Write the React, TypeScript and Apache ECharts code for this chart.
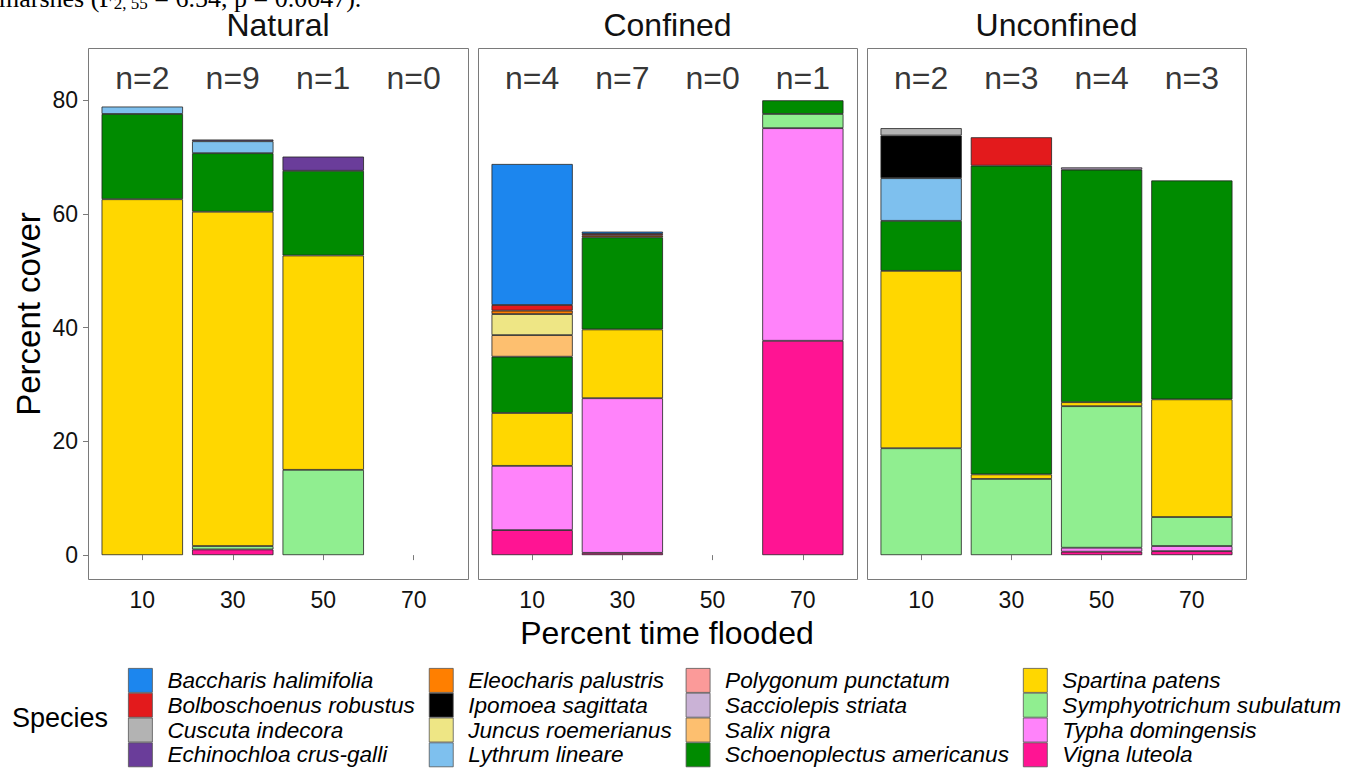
import React, { useEffect, useRef } from 'react';
import * as echarts from 'echarts';

// ---------- data ----------
const species = [
  'Baccharis halimifolia',
  'Bolboschoenus robustus',
  'Cuscuta indecora',
  'Echinochloa crus-galli',
  'Eleocharis palustris',
  'Ipomoea sagittata',
  'Juncus roemerianus',
  'Lythrum lineare',
  'Polygonum punctatum',
  'Sacciolepis striata',
  'Salix nigra',
  'Schoenoplectus americanus',
  'Spartina patens',
  'Symphyotrichum subulatum',
  'Typha domingensis',
  'Vigna luteola',
];

const speciesColors = [
  '#1C86EE', '#E31A1C', '#B3B3B3', '#6A3D9A',
  '#FF7F00', '#000000', '#EEE685', '#7EC0EE',
  '#FB9A99', '#CAB2D6', '#FDBF6F', '#008B00',
  '#FFD700', '#90EE90', '#FF83FA', '#FF1493',
];

const sites = ['Natural', 'Confined', 'Unconfined'];
const floodCategories = ['10', '30', '50', '70'];

const nNatural = [2, 9, 1, 0];
const nConfined = [4, 7, 0, 1];
const nUnconfined = [2, 3, 4, 3];

// percent cover per species at 10 / 30 / 50 / 70 % time flooded
const naturalCover: Record<string, number[]> = {
  'Echinochloa crus-galli': [0, 0.3, 2.5, 0],
  'Lythrum lineare': [1.3, 2.1, 0, 0],
  'Schoenoplectus americanus': [15.0, 10.3, 14.9, 0],
  'Spartina patens': [62.6, 58.8, 37.7, 0],
  'Symphyotrichum subulatum': [0, 0.6, 15.0, 0],
  'Vigna luteola': [0, 1.0, 0, 0],
};

const confinedCover: Record<string, number[]> = {
  'Baccharis halimifolia': [24.8, 0.4, 0, 0],
  'Bolboschoenus robustus': [1.0, 0.3, 0, 0],
  'Eleocharis palustris': [0.6, 0.3, 0, 0],
  'Juncus roemerianus': [3.7, 0, 0, 0],
  'Salix nigra': [3.8, 0, 0, 0],
  'Schoenoplectus americanus': [9.9, 16.2, 0, 2.4],
  'Spartina patens': [9.3, 12.1, 0, 0],
  'Symphyotrichum subulatum': [0, 0, 0, 2.5],
  'Typha domingensis': [11.3, 27.2, 0, 37.4],
  'Vigna luteola': [4.4, 0.4, 0, 37.7],
};

const unconfinedCover: Record<string, number[]> = {
  'Bolboschoenus robustus': [0, 5.0, 0, 0],
  'Cuscuta indecora': [1.3, 0, 0, 0],
  'Ipomoea sagittata': [7.5, 0, 0, 0],
  'Lythrum lineare': [7.5, 0, 0, 0],
  'Sacciolepis striata': [0, 0, 0.4, 0],
  'Schoenoplectus americanus': [8.8, 54.3, 40.9, 38.5],
  'Spartina patens': [31.2, 0.8, 0.7, 20.7],
  'Symphyotrichum subulatum': [18.8, 13.4, 24.9, 5.1],
  'Typha domingensis': [0, 0, 0.7, 0.9],
  'Vigna luteola': [0, 0, 0.6, 0.7],
};

const yTicks = [0, 20, 40, 60, 80];

// ---------- layout / style ----------
const FONT = '"Liberation Sans", Arial, Helvetica, sans-serif';
const SERIF = '"Liberation Serif", "Times New Roman", serif';
const panels = [
  { left: 88, width: 380 },
  { left: 478, width: 379 },
  { left: 867, width: 379 },
];
const PANEL_TOP = 48;
const PANEL_HEIGHT = 531;
const Y_MIN = -4.2;
const Y_MAX = 89.2;
const N_LABEL_Y = 84;
const BORDER = '#7a7a7a';

export default function App() {
  const ref = useRef<HTMLDivElement>(null);

  useEffect(() => {
    if (!ref.current) return;
    const chart = echarts.init(ref.current, undefined, { renderer: 'svg' });

    const covers = [naturalCover, confinedCover, unconfinedCover];
    const ns = [nNatural, nConfined, nUnconfined];

    // ggplot-like discrete expansion: 0.6 band on each side of first/last category
    const inner = panels.map((p) => {
      const band = p.width / 4.2;
      return { left: p.left + 0.1 * band, width: 4 * band, offset: 0.1 * band };
    });

    const grid = inner.map((g) => ({
      left: g.left,
      top: PANEL_TOP,
      width: g.width,
      height: PANEL_HEIGHT,
      containLabel: false,
    }));

    const xAxis = panels.map((_, p) => ({
      type: 'category',
      gridIndex: p,
      data: floodCategories,
      boundaryGap: true,
      splitLine: { show: false },
      axisLine: { show: false },
      axisTick: { show: true, alignWithLabel: true, length: 5, lineStyle: { color: BORDER, width: 1 } },
      axisLabel: {
        show: true,
        margin: 9,
        fontSize: 23,
        color: '#111',
        fontFamily: FONT,
      },
    }));

    const yAxis = panels.map((_, p) => ({
      type: 'value',
      gridIndex: p,
      min: Y_MIN,
      max: Y_MAX,
      offset: inner[p].offset,
      splitLine: { show: false },
      axisLine: { show: false },
      axisTick: { show: p === 0, length: 5, customValues: yTicks, lineStyle: { color: BORDER, width: 1 } },
      axisLabel: {
        show: p === 0,
        customValues: yTicks,
        margin: 10,
        fontSize: 23,
        color: '#111',
        fontFamily: FONT,
      },
    }));

    const series: any[] = [];
    covers.forEach((cov, p) => {
      [...species].reverse().forEach((sp) => {
        const vals = cov[sp] || [0, 0, 0, 0];
        series.push({
          type: 'bar',
          name: sp,
          xAxisIndex: p,
          yAxisIndex: p,
          stack: 'site' + p,
          barWidth: '90%',
          silent: true,
          itemStyle: {
            color: speciesColors[species.indexOf(sp)],
            borderColor: '#222',
            borderWidth: 0.8,
          },
          data: vals.map((v) => (v > 0 ? v : '-')),
        });
      });
      series.push({
        type: 'scatter',
        xAxisIndex: p,
        yAxisIndex: p,
        symbolSize: 0,
        silent: true,
        data: ns[p].map(() => N_LABEL_Y),
        label: {
          show: true,
          position: 'inside',
          formatter: (prm: any) => 'n=' + ns[p][prm.dataIndex],
          fontSize: 32,
          color: '#000',
          fontFamily: FONT,
        },
      });
    });

    const titleCenters = panels.map((p) => p.left + p.width / 2);

    const graphic: any[] = [
      ...panels.map((p) => ({
        type: 'rect',
        shape: { x: p.left + 0.5, y: PANEL_TOP + 0.5, width: p.width, height: PANEL_HEIGHT },
        style: { fill: 'none', stroke: BORDER, lineWidth: 1 },
        silent: true,
        z: 0,
      })),
      ...sites.map((s, i) => ({
        type: 'text',
        x: titleCenters[i],
        y: 25,
        style: { text: s, fontSize: 32, fontFamily: FONT, fill: '#111', align: 'center', verticalAlign: 'middle' },
      })),
      {
        type: 'text',
        x: 667,
        y: 633,
        style: { text: 'Percent time flooded', fontSize: 32, fontFamily: FONT, fill: '#000', align: 'center', verticalAlign: 'middle' },
      },
      {
        type: 'text',
        x: 28,
        y: 314,
        rotation: Math.PI / 2,
        style: { text: 'Percent cover', fontSize: 33, fontFamily: FONT, fill: '#000', align: 'center', verticalAlign: 'middle' },
      },
      {
        type: 'text',
        x: 12,
        y: 718,
        style: { text: 'Species', fontSize: 27, fontFamily: FONT, fill: '#000', align: 'left', verticalAlign: 'middle' },
      },
      {
        type: 'text',
        x: -1,
        y: -2,
        style: {
          text: '{a|marshes (F}{b|2, 55}{a| = 6.54, p = 0.0047).}',
          verticalAlign: 'middle',
          align: 'left',
          rich: {
            a: { fontSize: 26, fontFamily: SERIF, fill: '#000', color: '#000' },
            b: { fontSize: 17, fontFamily: SERIF, fill: '#000', color: '#000', padding: [10, 0, 0, 0] },
          },
        },
      },
    ];

    chart.setOption({
      animation: false,
      backgroundColor: '#ffffff',
      grid,
      xAxis,
      yAxis,
      series,
      legend: {
        data: species,
        orient: 'vertical',
        left: 128,
        top: 668,
        height: 110,
        padding: 0,
        itemWidth: 24,
        itemHeight: 24,
        itemGap: 0,
        icon: 'rect',
        selectedMode: false,
        itemStyle: { borderColor: '#555', borderWidth: 0.8 },
        textStyle: {
          fontSize: 22.6,
          fontStyle: 'italic',
          fontFamily: FONT,
          color: '#000',
          lineHeight: 24,
          padding: [0, 14, 0, 10],
        },
      },
      graphic,
    });

    return () => chart.dispose();
  }, []);

  return (
    <div
      ref={ref}
      style={{ position: 'fixed', left: 0, top: 0, width: 1359, height: 768, background: '#fff' }}
    />
  );
}
